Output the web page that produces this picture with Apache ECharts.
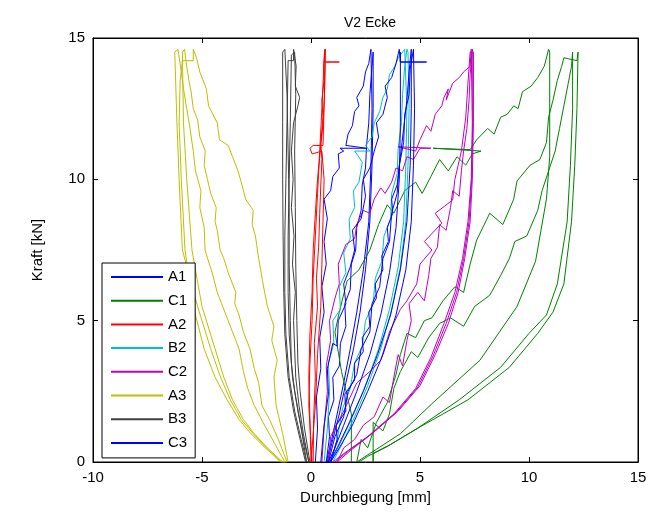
<!DOCTYPE html>
<html>
<head>
<meta charset="utf-8">
<script src="https://cdn.jsdelivr.net/npm/echarts@6/dist/echarts.min.js"></script>
<style>html,body{margin:0;padding:0;background:#fff}#c{width:665px;height:514px}</style>
</head>
<body>
<div id="c"></div>
<script>
// ---- data (x = Durchbiegung [mm], y = Kraft [kN]) ----
const seriesNames = ['A1', 'C1', 'A2', 'B2', 'C2', 'A3', 'B3', 'C3'];
const xTicks = [-10, -5, 0, 5, 10, 15];
const yTicks = [0, 5, 10, 15];

const A1 = [
[0.2,0],[0.3,1.2],[0.25,2.3],[0.45,3.3],[0.4,4.4],[0.6,5.3],[0.5,6.2],[0.7,7.0],[0.6,7.8],[0.75,8.6],[0.6,9.3],[0.9,9.6],[1.0,10.1],[1.3,10.4],[1.25,10.9],[1.5,11.0],[1.33,11.1],[2.55,11.1],[1.6,11.2],[1.7,11.6],[1.9,11.9],[2.0,12.4],[2.2,12.6],[2.1,12.9],[2.4,13.3],[2.5,13.8],[2.65,14.1],[2.75,14.6],
[2.8,14.6],[2.8,12.5],[2.75,10.5],[2.65,8.5],[2.4,6.8],[2.1,5.3],[1.8,4.0],[1.5,2.8],[1.2,1.7],[0.95,0.8],[0.7,0],
[0.7,0],[0.85,0.9],[0.8,1.6],[1.05,2.2],[1.0,3.0],[1.3,3.4],[1.35,4.2],[1.6,4.8],[1.55,5.6],[1.8,6.1],[1.85,7.0],[2.05,7.5],[2.1,8.3],[2.3,8.9],[2.35,9.8],[2.5,10.4],[2.55,11.2],[2.65,12.0],[2.7,13.0],[2.8,14.0],[2.85,14.5],
[2.85,14.5],[2.85,12.5],[2.8,10.5],[2.7,8.5],[2.5,6.8],[2.25,5.3],[1.95,4.0],[1.6,2.8],[1.3,1.7],[1.0,0.8],[0.75,0]
];

const C1 = [
[1.85,0],[1.85,1.7],[1.4,3.2],[1.1,4.6],[1.3,5.3],[1.65,6.4],[2.2,6.8],[2.7,7.5],[3.1,8.4],[3.5,9.1],[3.8,8.8],[4.3,9.6],[4.8,9.9],[5.1,9.5],[5.5,10.1],[5.9,10.7],[6.3,10.3],[6.7,10.8],[7.1,10.5],[7.4,10.9],[7.8,11.0],[5.6,11.1],[7.3,11.05],[7.6,11.4],[8.1,11.8],[8.4,11.6],[8.7,12.2],[9.0,12.3],[9.3,12.6],[9.5,12.5],[9.7,13.1],[10.1,13.3],[10.4,13.6],[10.7,14.0],[10.9,14.6],
[10.95,14.5],[10.95,10.8],[10.8,9.3],[10.3,7.1],[9.45,5.5],[7.75,3.6],[5.6,2.1],[4.1,1.0],[3.0,0.45],[2.3,0.1],[2.1,0],
[2.1,0],[2.3,0.8],[2.6,0.5],[3.0,1.4],[3.5,2.1],[3.9,3.1],[4.1,3.8],[4.4,4.55],[4.8,4.4],[5.2,5.0],[5.55,5.1],[6.05,5.7],[6.6,6.2],[7.0,6.0],[7.3,7.0],[7.6,7.85],[8.2,8.8],[8.8,8.4],[9.3,9.3],[9.45,9.94],[10.05,10.5],[10.5,10.7],[10.8,11.3],[10.9,12.2],[11.1,12.8],[11.3,13.5],[11.5,14.0],[11.6,14.3],[12.2,14.2],[12.25,14.5],
[12.25,14.5],[12.2,12.5],[12.1,10.5],[11.95,8.5],[11.6,6.3],[11.1,5.3],[10.4,4.55],[9.1,3.35],[7.2,2.2],[5.0,1.24],[3.6,0.6],[2.85,0.3],[2.85,0],
[2.85,0],[2.85,1.4],[3.3,1.1],[3.6,1.7],[3.8,2.6],[4.1,3.2],[4.6,3.9],[4.9,3.7],[5.4,4.4],[5.9,4.9],[6.4,5.1],[7.0,4.8],[7.5,5.5],[8.2,5.9],[8.7,6.6],[9.1,7.2],[9.35,7.8],[9.9,8.0],[10.4,8.9],[10.6,9.6],[10.9,10.3],[11.2,11.0],[11.4,11.8],[11.6,12.6],[11.8,13.4],[11.95,14.0],[12.0,14.5],
[12.05,14.5],[12.0,12.5],[11.9,10.5],[11.75,8.5],[11.3,6.3],[10.8,5.2],[10.0,4.55],[8.7,3.35],[6.8,2.2],[4.9,1.2],[3.5,0.55],[2.6,0.2],[2.2,0]
];

const A2 = [
[0.1,0],[0.12,1.5],[0.2,3.0],[0.15,4.2],[0.3,5.5],[0.25,6.5],[0.35,7.6],[0.4,8.8],[0.45,9.8],[0.5,10.7],[0.45,11.3],[0.55,12.2],[0.5,12.8],[0.6,13.5],[0.58,14.0],[0.64,14.6],
[0.64,14.15],[1.3,14.15],[0.64,14.15],
[0.62,13.0],[0.55,12.0],[0.45,11.2],[0.3,10.0],[0.2,8.8],[0.1,7.5],[0.05,6.0],[-0.05,4.5],[-0.1,3.0],[-0.05,1.5],[0.0,0],
[0.05,0],[0.2,2.0],[0.3,3.8],[0.45,5.5],[0.5,7.0],[0.55,8.5],[0.6,10.0],[0.5,11.0],[0.05,10.9],[-0.05,11.1],[0.1,11.2],[0.55,11.2],[0.6,12.5],[0.65,14.0],[0.66,14.6],
[0.62,14.5],[0.5,12.5],[0.4,11.0],[0.3,9.5],[0.2,8.0],[0.1,6.5],[0.05,5.0],[-0.05,3.5],[-0.1,2.0],[0.05,0]
];

const B2 = [
[0.6,0],[0.75,1.2],[0.85,2.5],[0.8,3.5],[1.05,4.2],[1.0,5.0],[1.35,5.4],[1.3,6.2],[1.6,6.7],[1.5,7.4],[1.8,7.9],[1.75,8.6],[2.0,9.0],[1.95,9.6],[2.2,9.9],[2.35,10.6],[2.1,10.9],[2.0,11.0],[2.7,11.0],[2.5,11.2],[2.8,11.5],[2.9,12.0],[3.15,12.4],[3.3,12.9],[3.5,13.2],[3.6,13.7],[3.85,14.0],[4.0,14.3],[4.3,14.6],
[4.35,14.6],[4.4,12.5],[4.35,10.5],[4.25,8.5],[4.0,6.9],[3.6,5.4],[3.1,4.0],[2.5,2.7],[1.9,1.6],[1.3,0.6],[0.9,0],
[0.9,0],[1.2,0.8],[1.45,1.9],[1.8,2.6],[2.0,3.5],[2.35,4.1],[2.5,5.0],[2.85,5.6],[2.95,6.5],[3.25,7.1],[3.35,8.0],[3.65,8.6],[3.7,9.5],[3.95,10.2],[4.0,11.1],[4.15,12.0],[4.2,13.0],[4.3,14.0],[4.4,14.6],
[4.45,14.5],[4.5,12.5],[4.45,10.5],[4.35,8.5],[4.1,6.9],[3.7,5.4],[3.2,4.0],[2.6,2.7],[2.0,1.6],[1.4,0.6],[1.0,0]
];

const C2 = [
[0.5,0],[0.6,1.2],[0.75,2.5],[0.7,3.4],[0.9,4.3],[0.85,5.0],[1.1,5.8],[1.3,6.3],[1.25,7.0],[1.6,7.7],[2.0,7.9],[2.1,8.4],[2.4,8.9],[2.7,8.8],[2.9,9.3],[3.2,9.7],[3.4,9.5],[3.7,9.9],[3.9,10.4],[4.2,10.3],[4.4,10.8],[4.7,10.7],[5.0,11.1],[5.5,11.1],[4.0,11.15],[4.8,11.0],[5.0,11.4],[5.3,11.9],[5.5,11.7],[5.7,12.3],[6.0,12.6],[6.1,12.9],[6.3,13.2],[6.2,12.8],[6.5,13.4],[6.8,13.6],[7.0,13.8],[7.3,14.0],[7.35,14.6],
[7.4,14.6],[7.4,12],[7.35,10],[7.2,8.5],[6.95,7.2],[6.6,6.0],[6.1,4.9],[5.5,3.7],[4.8,2.6],[3.8,1.7],[2.6,0.9],[1.6,0.35],[1.0,0],
[0.8,0],[0.9,0.9],[1.5,1.8],[2.1,2.8],[2.7,3.2],[3.2,3.6],[3.6,4.6],[4.1,5.4],[4.4,5.7],[4.85,6.3],[5.0,7.0],[5.55,7.5],[5.2,7.8],[6.0,8.45],[5.7,8.8],[6.5,9.27],[6.6,10.0],[6.9,11.0],[7.1,12.2],[7.2,13.4],[7.3,14.5],
[7.45,14.5],[7.45,12],[7.4,10],[7.3,8.5],[7.05,7.2],[6.75,6.0],[6.3,4.9],[5.7,3.8],[5.0,2.7],[4.0,1.8],[2.8,1.0],[1.8,0.4],[1.2,0],
[1.2,0],[1.5,0.5],[2.0,0.8],[2.4,1.3],[2.9,1.6],[3.3,2.3],[3.6,2.1],[3.8,3.0],[4.0,3.8],[4.2,3.4],[4.4,4.3],[4.6,5.0],[4.5,5.6],[4.9,6.0],[5.2,5.7],[5.4,6.6],[5.5,7.2],[5.8,7.6],[5.9,8.4],[6.2,8.2],[6.4,9.0],[6.5,9.6],[6.8,9.4],[6.9,10.3],[7.0,11.0],[7.15,11.8],[7.25,12.8],[7.3,13.7],[7.4,14.6],
[7.42,14.5],[7.42,12],[7.37,10],[7.25,8.5],[7.0,7.2],[6.68,6.0],[6.2,4.9],[5.6,3.75],[4.9,2.65],[3.9,1.75],[2.7,0.95],[1.7,0.38],[1.1,0]
];

const A3 = [
[-1.05,0],[-1.3,1.0],[-1.6,2.0],[-1.7,3.0],[-1.55,3.6],[-1.8,4.3],[-1.7,4.8],[-2.0,5.5],[-2.2,6.3],[-2.4,7.2],[-2.55,8.0],[-2.7,8.4],[-2.65,8.9],[-3.0,9.3],[-3.2,9.9],[-3.35,10.3],[-3.6,10.8],[-3.8,11.2],[-4.2,11.4],[-4.3,12.0],[-4.7,12.6],[-4.8,13.2],[-5.1,13.8],[-5.25,14.3],[-5.4,14.6],
[-5.4,14.2],[-5.9,14.2],
[-6.0,13.5],[-6.05,12],[-5.95,10],[-5.78,7.5],[-5.4,5.5],[-4.9,4],[-4.4,3],[-3.85,2.2],[-3.3,1.5],[-2.75,1.0],[-2.1,0.5],[-1.35,0],
[-1.1,0],[-1.5,0.8],[-1.9,1.5],[-2.25,2.0],[-2.4,2.8],[-2.6,3.3],[-2.8,4.0],[-3.1,4.6],[-3.3,5.2],[-3.5,5.6],[-3.45,6.0],[-3.8,6.7],[-4.0,7.2],[-4.17,7.5],[-4.3,8.2],[-4.4,8.5],[-4.35,9.0],[-4.6,9.5],[-4.75,10.0],[-4.9,10.5],[-4.85,11.0],[-5.1,11.5],[-5.2,12.1],[-5.4,12.5],[-5.5,13.1],[-5.6,13.5],[-5.7,14.0],[-5.8,14.6],
[-5.9,14.5],[-5.85,12],[-5.7,10],[-5.46,7.5],[-5.0,5.5],[-4.4,4],[-4.0,3],[-3.6,2.2],[-3.1,1.5],[-2.6,1.0],[-2.0,0.5],[-1.3,0],
[-1.2,0],[-1.7,0.7],[-2.2,1.4],[-2.6,2.0],[-2.9,2.6],[-3.1,3.2],[-3.3,4.0],[-3.6,4.6],[-3.8,5.0],[-4.1,5.6],[-4.3,6.0],[-4.5,6.6],[-4.86,7.5],[-4.9,8.3],[-5.1,9.0],[-5.05,9.6],[-5.3,10.3],[-5.4,11.0],[-5.55,11.8],[-5.7,12.5],[-5.85,13.2],[-5.95,13.8],[-6.1,14.6],
[-6.25,14.5],[-6.15,12],[-6.05,10],[-5.9,7.5],[-5.2,5.5],[-4.6,4],[-4.15,3],[-3.7,2.2],[-3.2,1.5],[-2.65,1.0],[-2.05,0.5],[-1.4,0]
];

const B3 = [
[-0.1,0],[-0.35,1],[-0.55,2],[-0.7,3],[-0.75,4],[-0.8,5],[-0.72,6],[-0.85,7],[-0.78,8],[-0.9,9],[-0.82,10],[-0.9,11],[-0.8,12],[-0.6,12.6],[-0.52,12.9],[-0.72,13.3],[-0.68,14],[-0.8,14.6],
[-0.8,14.2],[-1.05,14.2],
[-1.1,12],[-1.15,10],[-1.2,8],[-1.2,6],[-1.15,4.5],[-1.0,3],[-0.75,1.8],[-0.45,0.8],[-0.2,0],
[-0.15,0],[-0.45,1.2],[-0.75,2.5],[-0.9,3.5],[-0.95,5],[-1.0,7],[-1.0,9],[-1.05,11],[-1.1,13],[-1.2,14.6],
[-1.3,14.5],[-1.3,12],[-1.3,10],[-1.28,8],[-1.25,6],[-1.2,4.5],[-1.05,3],[-0.8,1.8],[-0.5,0.8],[-0.25,0],
[-0.05,0],[-0.3,1.2],[-0.5,2.5],[-0.6,3.5],[-0.65,5],[-0.7,7],[-0.72,9],[-0.75,11],[-0.7,13],[-0.75,14.5],
[-0.9,14.4],[-0.95,12],[-1.0,10],[-1.05,8],[-1.05,6],[-1.0,4.5],[-0.85,3],[-0.6,1.8],[-0.35,0.8],[-0.1,0]
];

const C3 = [
[0.45,0],[0.6,1.3],[0.8,2.4],[0.75,3.3],[1.0,4.2],[1.2,4.1],[1.25,5.0],[1.6,5.6],[1.5,6.3],[1.8,6.9],[2.0,7.5],[1.9,8.2],[2.3,8.6],[2.5,9.4],[2.4,10.0],[2.7,10.4],[2.9,11.0],[3.1,11.5],[3.0,12.0],[3.3,12.3],[3.5,12.9],[3.4,13.3],[3.7,13.6],[3.9,14.1],[4.05,14.6],
[4.1,14.15],[5.3,14.15],[4.1,14.15],
[4.1,14.5],[4.1,12.0],[4.05,10.0],[3.9,8.3],[3.6,6.7],[3.2,5.2],[2.7,3.8],[2.1,2.5],[1.5,1.3],[1.1,0.5],[0.8,0],
[0.8,0],[1.1,0.9],[1.5,1.6],[1.7,2.5],[2.1,3.1],[2.3,4.0],[2.7,4.6],[2.8,5.6],[3.15,6.2],[3.3,7.2],[3.6,7.8],[3.7,8.8],[3.95,9.5],[4.05,10.5],[4.25,11.3],[4.3,12.3],[4.5,13.0],[4.55,13.9],[4.7,14.6],
[4.77,14.6],[4.75,12.5],[4.7,10.5],[4.6,8.5],[4.35,6.8],[3.9,5.2],[3.3,3.8],[2.6,2.5],[1.9,1.3],[1.3,0.5],[0.9,0],
[0.9,0],[1.2,0.8],[1.15,1.3],[1.6,1.8],[1.55,2.4],[2.0,2.9],[2.0,3.5],[2.4,3.9],[2.35,4.4],[2.7,4.8],[2.65,5.3],[3.0,5.8],[2.95,6.3],[3.3,6.8],[3.25,7.3],[3.55,7.8],[3.5,8.3],[3.75,8.8],[3.7,9.3],[3.95,9.8],[4.1,10.8],[4.25,11.8],[4.4,12.8],[4.5,13.8],[4.6,14.6],
[4.6,14.5],[4.6,12.5],[4.55,10.5],[4.4,8.5],[4.1,6.8],[3.65,5.2],[3.05,3.8],[2.4,2.5],[1.7,1.3],[1.2,0.5],[0.85,0]
];

const seriesData = [A1, C1, A2, B2, C2, A3, B3, C3];
const seriesColors = ['#0000ff', '#008000', '#ff0000', '#00bfbf', '#bf00bf', '#bfbf00', '#404040', '#0000ff'];

// ---- chart ----
const FONT = 'Liberation Sans, Arial, sans-serif';
const chart = echarts.init(document.getElementById('c'), null, {renderer: 'canvas'});

const axisCommon = {
  type: 'value',
  splitLine: {show: false},
  axisLine: {show: true, onZero: false, lineStyle: {color: '#000', width: 1}},
  axisTick: {show: true, inside: true, length: 5, lineStyle: {color: '#000'}},
};

chart.setOption({
  animation: false,
  backgroundColor: '#fff',
  title: {
    text: 'V2 Ecke', left: 365, top: 11, textAlign: 'center',
    textStyle: {fontFamily: FONT, fontSize: 14, fontWeight: 'normal', color: '#000'}
  },
  grid: {left: 93, top: 38, width: 545, height: 424, show: true, borderColor: '#000', borderWidth: 1, backgroundColor: '#fff'},
  legend: {
    data: seriesNames, orient: 'vertical', left: 102, top: 263,
    icon: 'rect', itemWidth: 52, itemHeight: 2, itemGap: 7.7,
    padding: [6, 8, 7, 9],
    backgroundColor: '#fff', borderColor: '#000', borderWidth: 1,
    textStyle: {fontFamily: FONT, fontSize: 15, color: '#000', lineHeight: 16},
    selectedMode: false
  },
  xAxis: [
    Object.assign({}, axisCommon, {
      min: xTicks[0], max: xTicks[xTicks.length - 1], interval: 5, position: 'bottom',
      axisLabel: {fontFamily: FONT, fontSize: 15, color: '#000', margin: 8},
      name: 'Durchbiegung [mm]', nameLocation: 'middle', nameGap: 26,
      nameTextStyle: {fontFamily: FONT, fontSize: 15, color: '#000'}
    }),
    Object.assign({}, axisCommon, {
      min: xTicks[0], max: xTicks[xTicks.length - 1], interval: 5, position: 'top',
      axisLabel: {show: false}
    })
  ],
  yAxis: [
    Object.assign({}, axisCommon, {
      min: yTicks[0], max: yTicks[yTicks.length - 1], interval: 5, position: 'left',
      axisLabel: {fontFamily: FONT, fontSize: 15, color: '#000', margin: 8},
      name: 'Kraft [kN]', nameLocation: 'middle', nameGap: 48,
      nameTextStyle: {fontFamily: FONT, fontSize: 15, color: '#000'}
    }),
    Object.assign({}, axisCommon, {
      min: yTicks[0], max: yTicks[yTicks.length - 1], interval: 5, position: 'right',
      axisLabel: {show: false}
    })
  ],
  series: seriesNames.map((n, i) => ({
    name: n, type: 'line', data: seriesData[i],
    xAxisIndex: 0, yAxisIndex: 0,
    showSymbol: false, symbol: 'none', silent: true, clip: true,
    lineStyle: {color: seriesColors[i], width: 1},
    itemStyle: {color: seriesColors[i]}
  }))
});
</script>
</body>
</html>
